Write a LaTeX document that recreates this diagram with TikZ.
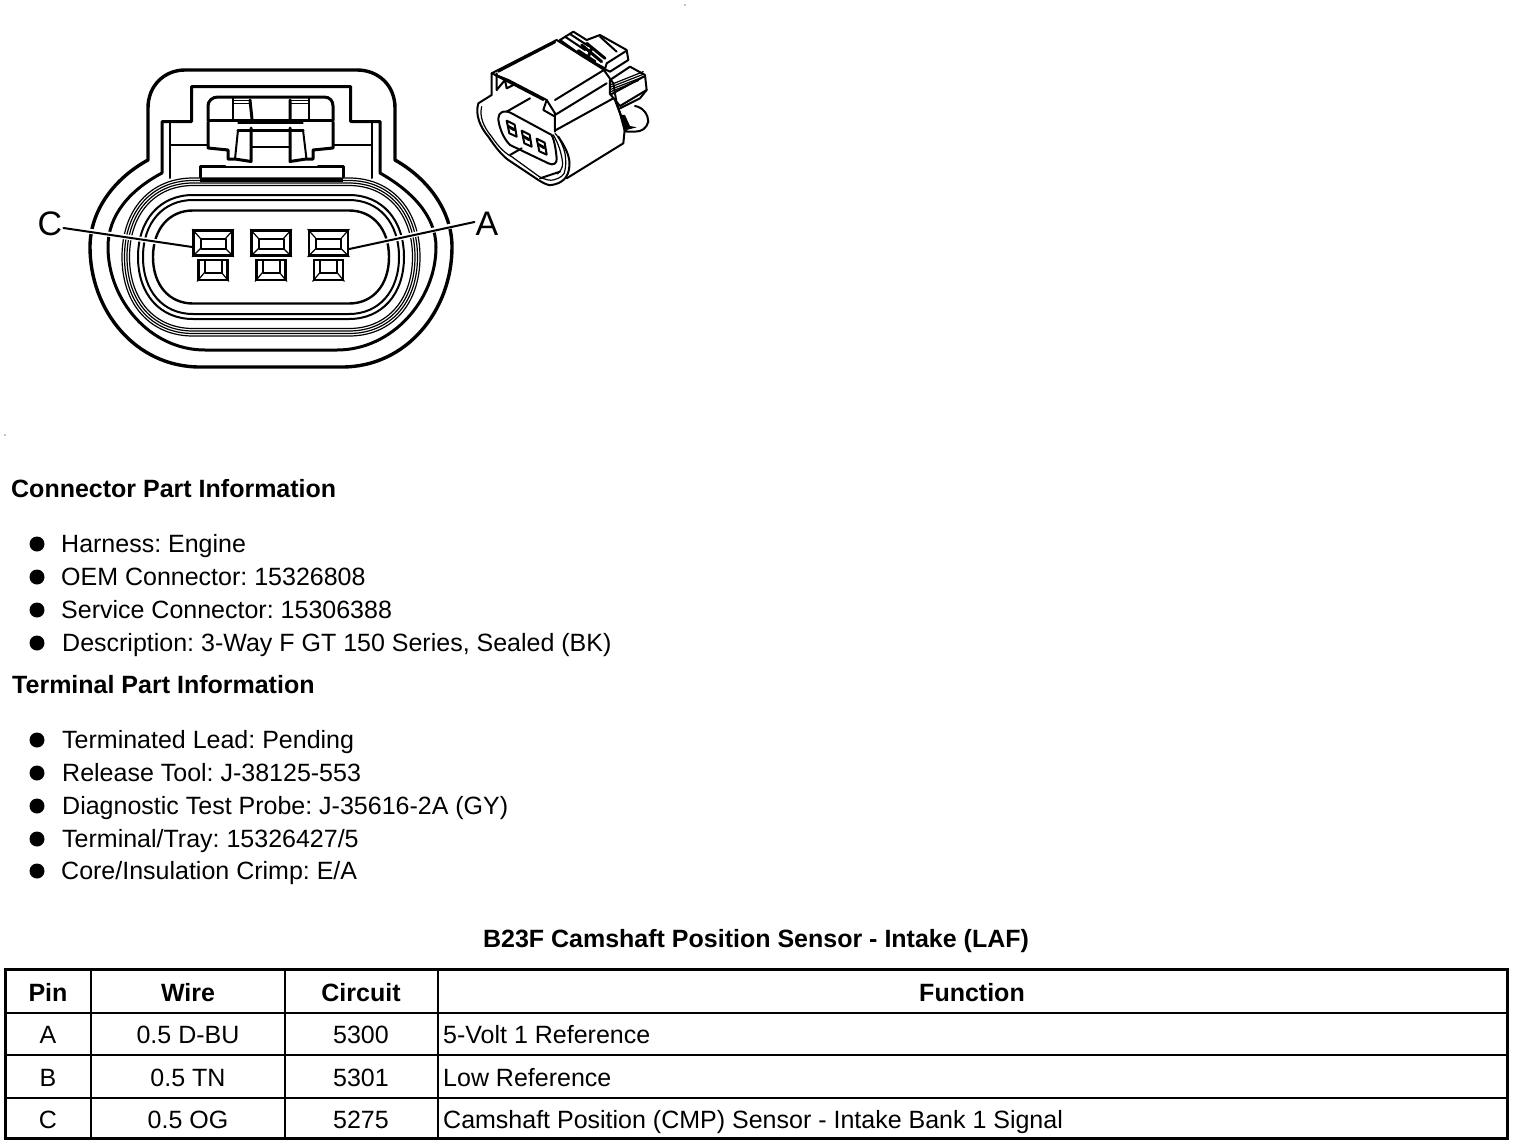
\documentclass[tikz,border=0pt]{standalone}
\usepackage{fontspec}
\setmainfont{Liberation Sans}
\frenchspacing
\tikzset{
 ln/.style={line width=3pt,line join=round,line cap=round},
 mid/.style={line width=2pt,line join=round,line cap=round},
 thn/.style={line width=1.2pt,line join=round,line cap=round},
 txt/.style={anchor=base west,inner sep=0pt,font=\fontsize{25}{28}\selectfont},
 hd/.style={anchor=base west,inner sep=0pt,font=\fontsize{25}{28}\selectfont\bfseries},
 cell/.style={anchor=base,inner sep=0pt,font=\fontsize{25}{28}\selectfont},
 hcell/.style={anchor=base,inner sep=0pt,font=\fontsize{25}{28}\selectfont\bfseries},
 dotb/.style={circle,fill=black,inner sep=0pt,minimum size=15pt},
 pinbig/.style={draw,line width=2.6pt,inner sep=0pt,minimum width=39pt,minimum height=25pt},
 pinsm/.style={draw,line width=2.6pt,inner sep=0pt,minimum width=29pt,minimum height=20pt},
 lbl/.style={inner sep=1pt,font=\fontsize{34}{36}\selectfont},
 rim/.style={line width=3pt},
 grid/.style={line width=2pt}
}
\newcommand{\sealoval}[3]{%
 \pgfmathsetmacro{\xa}{271-78}\pgfmathsetmacro{\xb}{271+78}%
 \pgfmathsetmacro{\xl}{271-#1}\pgfmathsetmacro{\xr}{271+#1}%
 \pgfmathsetmacro{\yt}{257-#2}\pgfmathsetmacro{\yb}{257+#2}%
 \pgfmathsetmacro{\rr}{(#1-78)*0.6}\pgfmathsetmacro{\hh}{#2*0.6}%
 \draw[#3] (\xa,\yt) -- (\xb,\yt) .. controls ({\xb+\rr},\yt) and (\xr,{257-\hh}) .. (\xr,257)
   .. controls (\xr,{257+\hh}) and ({\xb+\rr},\yb) .. (\xb,\yb) -- (\xa,\yb)
   .. controls ({\xa-\rr},\yb) and (\xl,{257+\hh}) .. (\xl,257)
   .. controls (\xl,{257-\hh}) and ({\xa-\rr},\yt) .. (\xa,\yt) -- cycle;}
\begin{document}
\begin{tikzpicture}[x=1pt,y=-1pt]
\useasboundingbox (0,0) rectangle (1520,1146);
\fill[white] (0,0) rectangle (1520,1146);
% outer contour
\draw[ln,line width=3.4pt] (148,160) -- (148,108) .. controls (148,85) and (165,70) .. (185,70) -- (357,70)
  .. controls (378,70) and (395,85) .. (395,108) -- (395,160)
  .. controls (427,178) and (452,210) .. (452,247) .. controls (452,310) and (407,367) .. (342,367) -- (200,367)
  .. controls (135,367) and (90,310) .. (90,247) .. controls (90,210) and (115,178) .. (148,160) -- cycle;
% second contour
\draw[ln] (162,173) -- (162,121.5) -- (191.5,121.5) -- (191.5,86.5) -- (350.5,86.5) -- (350.5,121.5) -- (380,121.5) -- (380,173)
  .. controls (410,190) and (436,215) .. (436,247) .. controls (436,300) and (392,350) .. (337,350) -- (205,350)
  .. controls (150,350) and (108,300) .. (108,247) .. controls (108,215) and (130,190) .. (162,173) -- cycle;
% seals
\sealoval{149}{79}{thn}
\sealoval{146.5}{76.5}{thn}
\sealoval{144}{74}{thn}
\sealoval{141.5}{71.5}{thn}
\sealoval{133}{62}{mid}
\sealoval{128}{57}{mid}
\sealoval{118}{46.5}{ln,line width=2.4pt}
\fill[black] (200,178) rectangle (343,182);
% housing inner lines
\draw[mid] (170,122) -- (170,178);
\draw[mid] (372,122) -- (372,178);
\draw[thn] (170,145) -- (208,145) (333,145) -- (372,145);
% step block
\draw[thn] (225,167) -- (318,167);
\draw[ln] (200,177) -- (200,166) -- (225,166) (318,166) -- (343,166) -- (343,177);
% latch
\draw[ln] (208,120) -- (208,106) .. controls (208,101) and (212,97) .. (218,97) -- (324,97) .. controls (330,97) and (333,101) .. (333,106) -- (333,120);
\draw[ln] (208,120) -- (333,120);
\draw[ln] (208,122) -- (208,148) -- (228,150) -- (228,159) -- (235,159) -- (251,161.5) -- (251,128);
\draw[ln] (333,122) -- (333,148) -- (313,150) -- (313,159) -- (306,159) -- (290,161.5) -- (290,128);
\draw[mid] (238,130) -- (235,159) (303,130) -- (306.5,159);
\draw[thn] (238,123) -- (303,123);
\draw[ln] (238,130) -- (303,130);
\draw[thn] (251,147) -- (290,147);
\draw[mid] (233,98) -- (233,119) (309,98) -- (309,119);
\draw[ln] (250,100) -- (252,119) (290,100) -- (290,119);
\draw[thn] (233,100.5) -- (250,100.5) (290,100.5) -- (309,100.5) (233,103.5) -- (250,103.5) (290,103.5) -- (309,103.5);
% pins
\foreach \n/\cx/\sx in {C/213/213,B/271/271,A/328.5/328.5}{
 \node[pinbig] (p\n) at (\cx,243) {};
 \node[pinsm] (s\n) at (\sx,270) {};
 \draw[mid] (\cx-12.5,238.5) rectangle (\cx+12.5,248.5);
 \draw[thn] (p\n.north west) -- (\cx-12.5,238.5) (p\n.north east) -- (\cx+12.5,238.5) (p\n.south west) -- (\cx-12.5,248.5) (p\n.south east) -- (\cx+12.5,248.5);
 \draw[mid] (\sx-8.5,261) -- (\sx-8.5,272.5) -- (\sx+8.5,272.5) -- (\sx+8.5,261);
 \draw[thn] (s\n.south west) -- (\sx-8.5,272.5) (s\n.south east) -- (\sx+8.5,272.5);
}
% leaders
\node[lbl] (lblC) at (50,224) {C};
\node[lbl] (lblA) at (487,224) {A};
\draw[white,line width=5pt] ([yshift=-4pt]lblC.east) ++(6,0) -- ([yshift=-4pt,xshift=-3pt]pC.west);
\draw[white,line width=5pt] ([yshift=2pt]lblA.west) ++(-6,0) -- ([yshift=-6pt,xshift=3pt]pA.east);
\draw[mid] ([yshift=-4pt]lblC.east) -- ([yshift=-4pt]pC.west);
\draw[mid] ([yshift=2pt]lblA.west) -- ([yshift=-6pt]pA.east);
% perspective view
\begin{scope}[shift={(470,20)},x=0.3333pt,y=-0.3333pt]
 % body
 \draw[mid] (65,160) -- (260,60) -- (400,148) -- (430,190) -- (440,250) -- (465,320) -- (460,370) -- (290,475);
 \draw[mid] (85,155) -- (255,67);
 \draw[mid] (255,240) -- (405,148);
 \draw[mid] (255,285) -- (410,190);
 \draw[mid] (258,330) -- (430,235);
 % hood
 \draw[mid] (65,160) -- (115,180) -- (230,240) -- (255,280) -- (255,335);
 \draw[mid] (75,165) -- (220,240);
 \draw[mid] (230,240) -- (220,270) -- (255,290);
 \draw[mid] (80,160) -- (80,210) -- (105,180) -- (110,205) -- (130,195);
 \draw[mid] (110,275) -- (180,235);
 % front lip
 \draw[mid] (65,160) -- (65,225) -- (25,250) .. controls (15,285) and (30,320) .. (55,350) .. controls (75,380) and (95,405) .. (115,420) -- (205,480) .. controls (225,492) and (235,497) .. (245,495) .. controls (275,490) and (295,475) .. (298,440) .. controls (302,410) and (285,380) .. (265,350);
 \draw[thn] (35,260) .. controls (28,290) and (40,320) .. (65,350) .. controls (85,380) and (105,400) .. (125,410) -- (205,468) .. controls (225,480) and (240,482) .. (250,480) .. controls (270,475) and (285,465) .. (285,450) .. controls (290,430) and (285,400) .. (285,400) .. controls (280,380) and (270,355) .. (255,340);
 \draw[thn] (250,345) .. controls (265,370) and (275,400) .. (278,430) .. controls (278,445) and (270,455) .. (262,462);
 \draw[mid] (120,405) -- (155,385);
 \draw[mid] (210,475) -- (270,455);
 % face
 \draw[mid] (85,295) .. controls (85,310) and (95,350) .. (120,375) -- (235,430) .. controls (250,438) and (262,430) .. (260,415) .. controls (258,395) and (255,365) .. (245,345) -- (125,280) .. controls (105,268) and (85,275) .. (85,295) -- cycle;
 \foreach \a/\b in {110/302,155/332,200/356}{
  \draw[mid] (\a,\b) -- (\a+24,\b+12) -- (\a+30,\b+48) -- (\a+8,\b+38) -- cycle;
  \fill (\a+4,\b+12) -- (\a+26,\b+24) -- (\a+28,\b+32) -- (\a+18,\b+30) -- (\a+6,\b+22) -- cycle;
 }
 % rear tabs
 \draw[mid] (270,60) -- (310,35) -- (350,60) -- (390,45) -- (470,90) -- (475,120) -- (420,155) -- (405,148);
 \draw[mid] (270,60) -- (340,110) -- (405,145);
 \draw[mid] (285,50) -- (345,90) (300,42) -- (355,78);
 \draw[mid] (470,92) -- (410,130) -- (405,148);
 \draw[mid] (390,50) -- (440,95);
 \draw[ln] (335,75) -- (395,125) (350,70) -- (405,115) (325,92) -- (375,125) (365,85) -- (355,110);
 % second tab
 \draw[mid] (420,180) -- (480,140) -- (525,165) -- (530,210) -- (450,258) -- (435,240) -- (420,222) -- (420,180);
 \draw[thn] (420,195) -- (520,155) (420,202) -- (522,162) (420,209) -- (522,170) (420,216) -- (505,182);
 \draw[mid] (525,168) -- (425,222);
 \draw[mid] (435,240) -- (450,280) -- (465,335);
 \draw[mid] (530,210) -- (510,235) -- (450,265);
 % knob
 \draw[mid] (495,258) .. controls (520,262) and (535,285) .. (535,305) .. controls (530,325) and (515,335) .. (495,335) -- (470,335) -- (462,320);
 \fill (455,285) -- (470,330) -- (500,322) -- (480,318) -- (465,285) -- cycle;
\end{scope}
% specks
\fill (685,5) circle (.6pt);
\fill (5,435) circle (.6pt);
% texts
\node[hd] (t1) at (11,497) {Connector Part Information};
\foreach \nm/\yy/\xx/\tt in {a/552/61/{Harness: Engine},b/585/61/{OEM Connector: 15326808},c/618/61/{Service Connector: 15306388},d/651/62/{Description: 3-Way F GT 150 Series, Sealed (BK)},
 e/748/62/{Terminated Lead: Pending},f/781/62/{Release Tool: J-38125-553},g/814/62/{Diagnostic Test Probe: J-35616-2A (GY)},h/847/62/{Terminal/Tray: 15326427/5},i/879/61/{Core/Insulation Crimp: E/A}}{
 \node[txt] (li\nm) at (\xx,\yy) {\tt};
 \node[dotb] (bu\nm) at (37,\yy-8) {};
}
\node[hd] (t2) at (12,693) {Terminal Part Information};
\node[hcell] (title) at (756,947) {B23F Camshaft Position Sensor - Intake (LAF)};
% table
\draw[grid] (5,1012.5) -- (1507,1012.5) (5,1055) -- (1507,1055) (5,1097.5) -- (1507,1097.5);
\draw[grid] (91,969) -- (91,1138) (285,969) -- (285,1138) (438,969) -- (438,1138);
\draw[rim] (5,969.5) rectangle (1507,1138);
\node[hcell] (h1) at (48,1001) {Pin};
\node[hcell] (h2) at (188,1001) {Wire};
\node[hcell] (h3) at (361,1001) {Circuit};
\node[hcell] (h4) at (972,1001) {Function};
\node[cell] (a1) at (48,1043) {A};
\node[cell] (a2) at (188,1043) {0.5 D-BU};
\node[cell] (a3) at (361,1043) {5300};
\node[txt] (a4) at (443,1043) {5-Volt 1 Reference};
\node[cell] (b1) at (48,1086) {B};
\node[cell] (b2) at (188,1086) {0.5 TN};
\node[cell] (b3) at (361,1086) {5301};
\node[txt] (b4) at (443,1086) {Low Reference};
\node[cell] (c1) at (48,1128) {C};
\node[cell] (c2) at (188,1128) {0.5 OG};
\node[cell] (c3) at (361,1128) {5275};
\node[txt] (c4) at (443,1128) {Camshaft Position (CMP) Sensor - Intake Bank 1 Signal};
\end{tikzpicture}
\end{document}
